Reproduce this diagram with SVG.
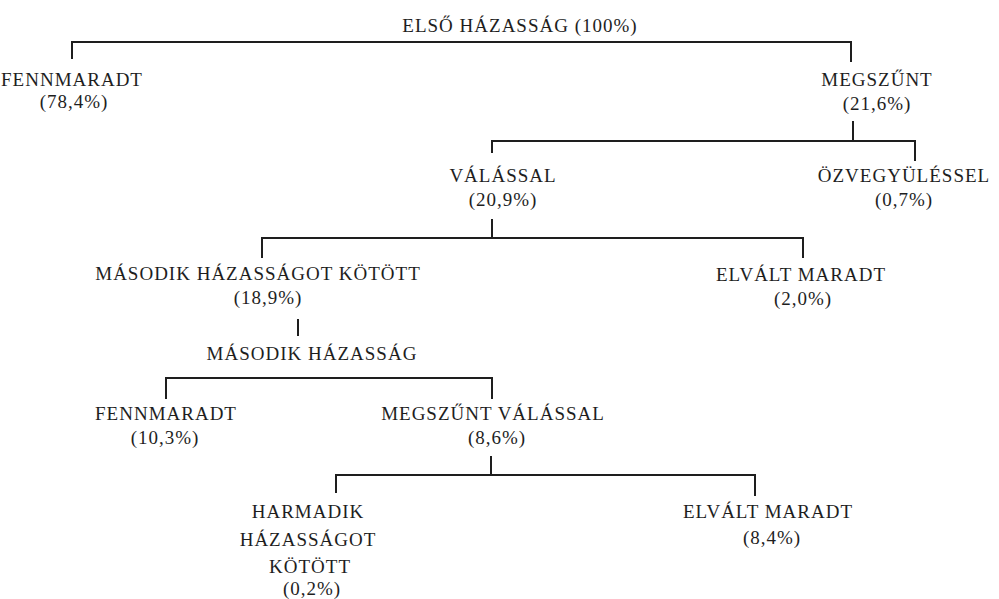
<svg xmlns="http://www.w3.org/2000/svg" width="999" height="599" viewBox="0 0 999 599">
<style>
text{font-family:"Liberation Serif","Times New Roman",serif;font-size:19px;fill:#1e1e1e;text-anchor:middle;letter-spacing:1px}
.c{fill:none;stroke:#1e1e1e;stroke-width:2;stroke-linecap:square}
</style>
<rect width="999" height="599" fill="#ffffff"/>
<g id="connectors">
<path class="c" d="M72,58 V42 H851 V61"/>
<path class="c" d="M853,122 V141"/>
<path class="c" d="M492,152 V141 H915 V160"/>
<path class="c" d="M492,220 V238"/>
<path class="c" d="M262,257 V238 H803 V257"/>
<path class="c" d="M298,320 V335"/>
<path class="c" d="M166,398 V378 H492 V398"/>
<path class="c" d="M491,457 V475"/>
<path class="c" d="M336,492 V475 H755 V495"/>
</g>
<g id="n-elso"><text x="520" y="32">ELSŐ HÁZASSÁG (100%)</text></g>
<g id="n-fennmaradt1"><text x="72" y="86">FENNMARADT</text><text x="74" y="108">(78,4%)</text></g>
<g id="n-megszunt1"><text x="877" y="86">MEGSZŰNT</text><text x="877" y="110">(21,6%)</text></g>
<g id="n-valassal"><text x="503" y="182">VÁLÁSSAL</text><text x="503" y="206">(20,9%)</text></g>
<g id="n-ozvegy"><text x="904" y="182">ÖZVEGYÜLÉSSEL</text><text x="904" y="206">(0,7%)</text></g>
<g id="n-masodik-kotott"><text x="258" y="280">MÁSODIK HÁZASSÁGOT KÖTÖTT</text><text x="268" y="304">(18,9%)</text></g>
<g id="n-elvalt1"><text x="801" y="281">ELVÁLT MARADT</text><text x="803" y="305">(2,0%)</text></g>
<g id="n-masodik"><text x="312" y="360">MÁSODIK HÁZASSÁG</text></g>
<g id="n-fennmaradt2"><text x="166" y="420">FENNMARADT</text><text x="165" y="444">(10,3%)</text></g>
<g id="n-megszunt2"><text x="493" y="420">MEGSZŰNT VÁLÁSSAL</text><text x="497" y="444">(8,6%)</text></g>
<g id="n-harmadik"><text x="308" y="518">HARMADIK</text><text x="308" y="546">HÁZASSÁGOT</text><text x="310" y="573">KÖTÖTT</text><text x="312" y="595">(0,2%)</text></g>
<g id="n-elvalt2"><text x="768" y="518">ELVÁLT MARADT</text><text x="772" y="544">(8,4%)</text></g>
</svg>
